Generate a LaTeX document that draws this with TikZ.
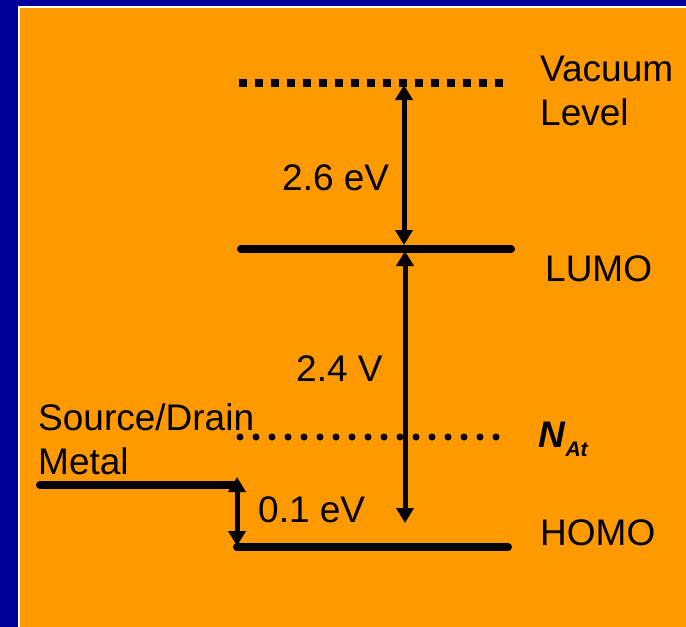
\documentclass[tikz,border=0pt]{standalone}
\usepackage{fontspec}
\setmainfont{Liberation Sans}
\usetikzlibrary{arrows.meta}

\definecolor{slidenavy}{RGB}{0,0,153}
\definecolor{slideorange}{RGB}{255,153,0}

\begin{document}
\begin{tikzpicture}[x=1pt, y=-1pt,
  lvl/.style={line width=8pt, line cap=round},
  sqdots/.style={line width=7.5pt, dash pattern=on 7.5pt off 8.5pt},
  rnddots/.style={line width=7pt, line cap=round, dash pattern=on 0pt off 16pt},
  gap/.style={line width=5pt,
              {Triangle[length=15pt,width=17pt]}-{Triangle[length=15pt,width=17pt]}},
  lbl/.style={anchor=base west, inner sep=0pt, align=left,
              font=\fontsize{37}{44}\selectfont}
]

%% -- slide background ----------------------------------------------------
\fill[slidenavy] (0,0) rectangle (686,627);
\fill[white] (18,6) rectangle (686,627);
\fill[slideorange] (20,8) rectangle (686,627);
\useasboundingbox (0,0) rectangle (686,627);

%% -- level end points ------------------------------------------------------
\coordinate (vacL)   at (239,83);
\coordinate (vacR)   at (503,83);
\coordinate (lumoL)  at (241,249);
\coordinate (lumoR)  at (511,249);
\coordinate (natL)   at (240,437);
\coordinate (natR)   at (497,437);
\coordinate (homoL)  at (237,547);
\coordinate (homoR)  at (508,547);
\coordinate (metalL) at (40,485);
\coordinate (metalR) at (237,485);

% arrow end points
\coordinate (vacTop)  at (404,85);
\coordinate (lumoBot) at (404,245);
\coordinate (lumoTop) at (405,251);
\coordinate (homoTop) at (405,523);
\coordinate (stepTop) at (237,477);
\coordinate (stepBot) at (237,546);

%% -- labels ----------------------------------------------------------------
\node[lbl] (vac)   at (540,125) {Vacuum\\Level};
\node[lbl] (lumo)  at (545,281) {LUMO};
\node[lbl] (nat)   at (538,447) {\textbf{\textit{N}}\raisebox{-9pt}{\fontsize{21}{24}\selectfont\textbf{\textit{At}}}};
\node[lbl] (homo)  at (540,545) {HOMO};
\node[lbl] (metal) at (38,474)  {Source/Drain\\Metal};
\node[lbl] (e26)   at (282,190) {2.6 eV};
\node[lbl] (e24)   at (296,381) {2.4 V};
\node[lbl] (e01)   at (258,522) {0.1 eV};

%% -- levels ----------------------------------------------------------------
\draw[sqdots]  (vacL)  -- (vacR);
\draw[lvl]     (lumoL) -- (lumoR);
\draw[rnddots] (natL)  -- (natR);
\draw[lvl]     (homoL) -- (homoR);
\draw[lvl]     (metalL) -- (metalR);

%% -- energy gaps -----------------------------------------------------------
\draw[gap] (lumoBot) -- (vacTop);
\draw[gap] (lumoTop) -- (homoTop);
\draw[gap] (stepTop) -- (stepBot);

\end{tikzpicture}
\end{document}
